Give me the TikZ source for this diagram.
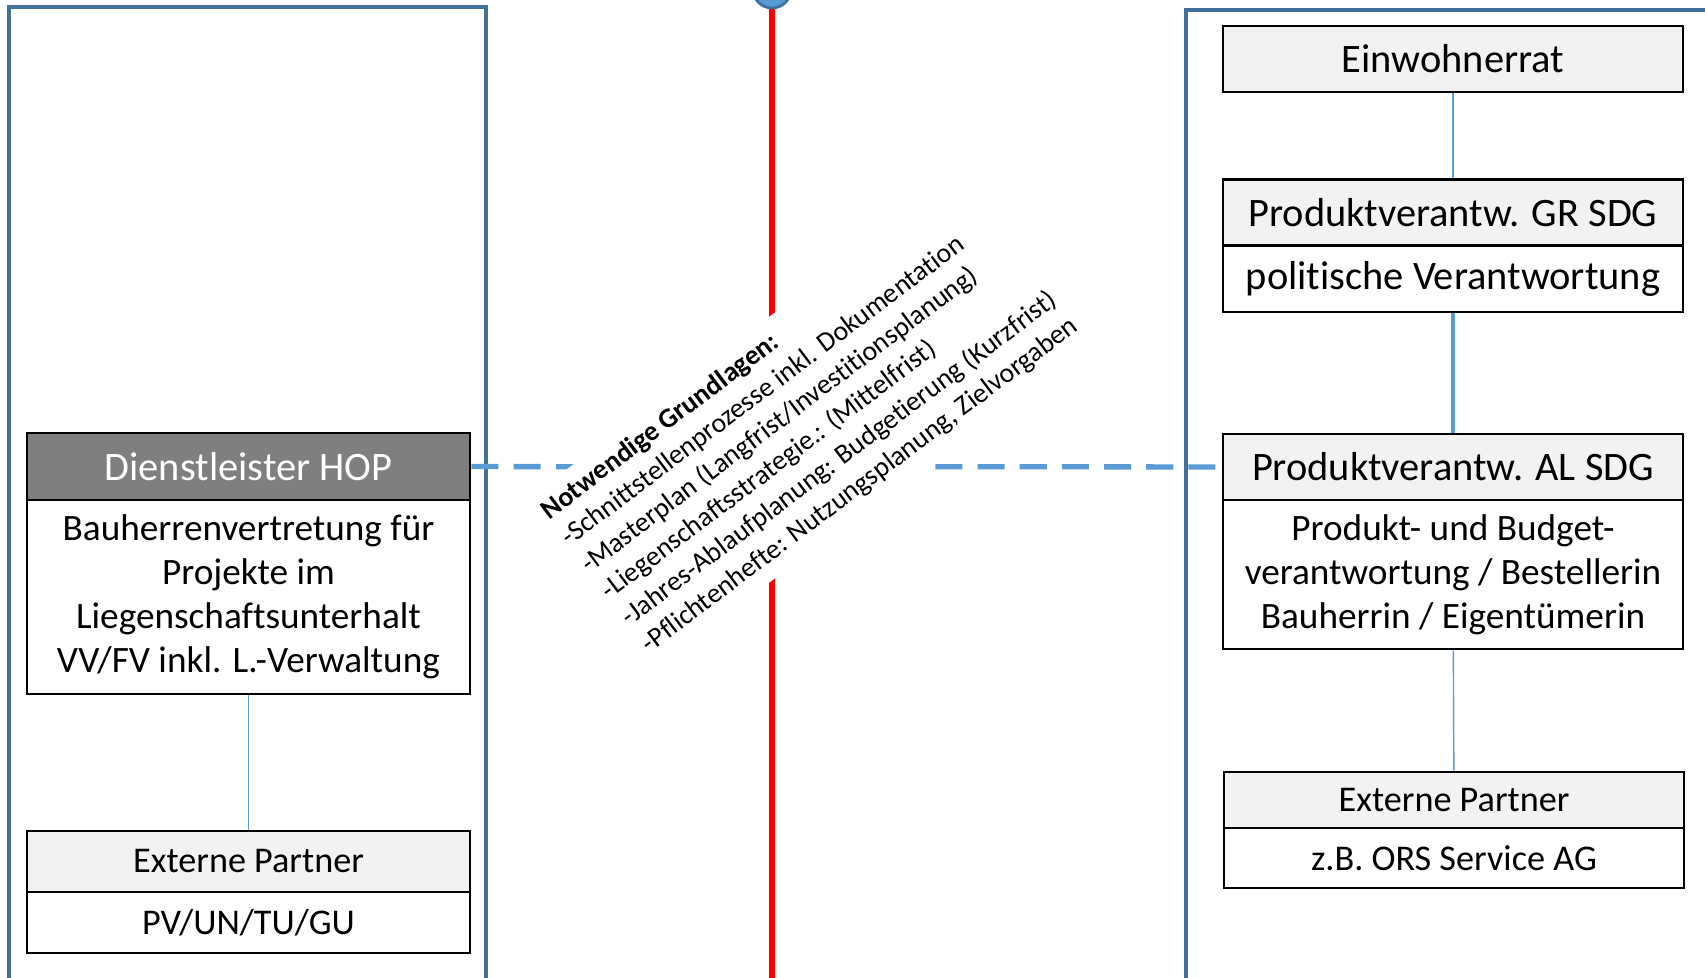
\documentclass[tikz,border=0pt]{standalone}
\usepackage{fontspec}
\setmainfont{Carlito}[Ligatures=NoCommon]
\usetikzlibrary{positioning}

\definecolor{panelblue}{RGB}{65,113,156}
\definecolor{linkblue}{RGB}{91,155,213}
\definecolor{hdrgray}{RGB}{242,242,242}
\definecolor{darkhdr}{RGB}{127,127,127}

\tikzset{
  panel/.style={draw=panelblue, line width=1.1pt},
  hdrbox/.style={draw, line width=0.8pt, fill=hdrgray, minimum width=4.6cm, minimum height=0.66cm, inner sep=0pt, font=\fontsize{11.5}{12.5}\selectfont},
  txtbox/.style={draw, line width=0.8pt, fill=white, minimum width=4.6cm, inner sep=0pt, align=center, font=\fontsize{10.6}{12.5}\selectfont},
  smallfont/.style={font=\fontsize{10.3}{11.5}\selectfont},
  link/.style={draw=linkblue, line width=0.4pt},
  biglink/.style={draw=linkblue, line width=1pt},
  dashlink/.style={draw=linkblue, line width=1.5pt, dash pattern=on 7.7pt off 4.3pt},
}

\begin{document}
\begin{tikzpicture}
\useasboundingbox (0,0) rectangle (17.05,-9.78);

% Spalten
\draw[panel] (0.09,-10.5) -- (0.09,-0.07) -- (4.86,-0.07) -- (4.86,-10.5);
\draw[panel] (11.86,-10.5) -- (11.86,-0.10) -- (17.6,-0.10);

% Trennlinie
\coordinate (redtop) at (7.72,0.11);
\coordinate (redbot) at (7.72,-10.5);
\draw[red, line width=1.7pt] (redtop) -- (redbot);
\node[circle, draw=panelblue, fill=linkblue, line width=0.8pt, minimum size=0.38cm, inner sep=0pt] (pin) at (redtop) {};

% rechte Seite
\node[hdrbox] (ewr) at (14.53,-0.59) {Einwohnerrat};
\node[hdrbox] (gr) at (14.53,-2.125) {Produktverantw. GR SDG};
\node[txtbox, minimum height=0.66cm, font=\fontsize{11.5}{12.5}\selectfont] (grtxt) at (14.53,-2.79) {politische Verantwortung};
\node[hdrbox] (al) at (14.53,-4.67) {Produktverantw. AL SDG};
\node[txtbox, minimum height=1.49cm] (altxt) at (14.53,-5.745) {Produkt- und Budget-\\verantwortung / Bestellerin\\Bauherrin / Eigentümerin};
\node[hdrbox, smallfont, minimum height=0.56cm] (extr) at (14.54,-8.0) {Externe Partner};
\node[txtbox, smallfont, minimum height=0.60cm] (extrtxt) at (14.54,-8.58) {z.B. ORS Service AG};

% linke Seite
\node[hdrbox, fill=darkhdr, text=white, minimum width=4.43cm, minimum height=0.67cm] (hop) at (2.485,-4.665) {Dienstleister HOP};
\node[txtbox, minimum width=4.43cm, minimum height=1.94cm] (hoptxt) at (2.485,-5.97) {Bauherrenvertretung für\\Projekte im\\Liegenschaftsunterhalt\\VV/FV inkl. L.-Verwaltung};
\node[hdrbox, smallfont, minimum width=4.43cm, minimum height=0.61cm] (extl) at (2.485,-8.615) {Externe Partner};
\node[txtbox, smallfont, minimum width=4.43cm, minimum height=0.61cm] (extltxt) at (2.485,-9.225) {PV/UN/TU/GU};

% Verbindungen
\draw[link] (ewr) -- (gr);
\draw[biglink] (grtxt) -- (al);
\draw[link] (altxt) -- (extr);
\draw[link] (hoptxt) -- (extl);
\draw[dashlink] (hop) -- (al);

\node[fill=white, rotate=37, align=left, inner sep=3pt, font=\fontsize{7.9}{9.5}\selectfont] (grundlagen) at (8.10,-4.19) {\textbf{Notwendige Grundlagen:}\\-Schnittstellenprozesse inkl. Dokumentation\\-Masterplan (Langfrist/Investitionsplanung)\\-Liegenschaftsstrategie.: (Mittelfrist)\\-Jahres-Ablaufplanung: Budgetierung (Kurzfrist)\\-Pflichtenhefte: Nutzungsplanung, Zielvorgaben};
\end{tikzpicture}
\end{document}
